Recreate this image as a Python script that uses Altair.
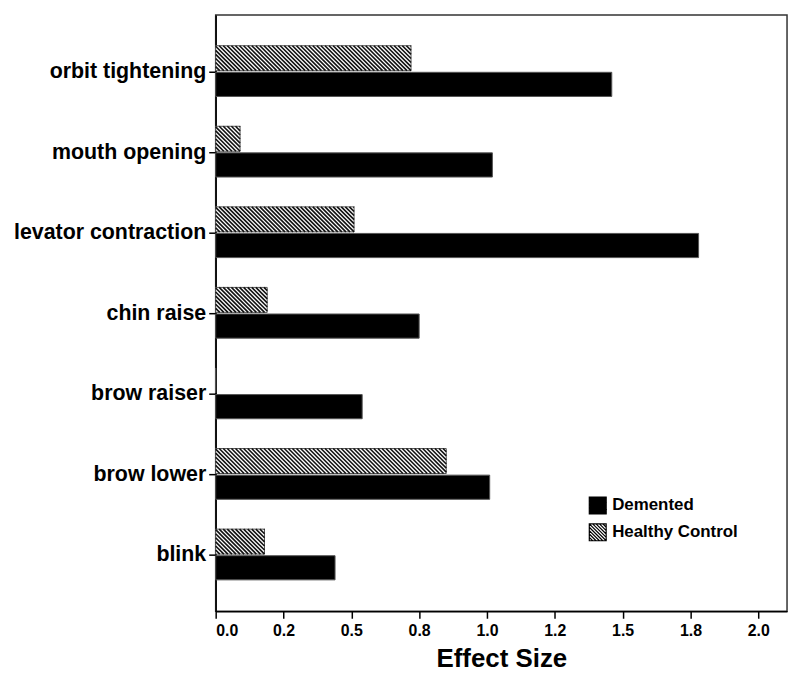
import json
import altair as alt
import pandas as pd

# ---- data ----
categories = ["orbit tightening", "mouth opening", "levator contraction",
              "chin raise", "brow raiser", "brow lower", "blink"]
demented = [1.46, 1.02, 1.78, 0.75, 0.54, 1.01, 0.44]
healthy = [0.72, 0.09, 0.51, 0.19, 0.0, 0.85, 0.18]
groups = ["Demented", "Healthy Control"]
tick_labels = ["0.0", "0.2", "0.5", "0.8", "1.0", "1.2", "1.5", "1.8", "2.0"]

rows = []
for i, c in enumerate(categories):
    rows.append({"category": c, "idx": i, "group": groups[0], "value": demented[i]})
    rows.append({"category": c, "idx": i, "group": groups[1], "value": healthy[i]})
df = pd.DataFrame(rows)

# ---- styling constants ----
FONT = "Liberation Sans"
HATCH_DX = 0.092   # horizontal run of one hatch line over the bar height (data units)
HATCH_STEP = 0.0150  # hatch spacing (data units)

x_scale = alt.Scale(domain=[0, 2.106], nice=False, zero=False)
y_scale = alt.Scale(domain=[-0.7, 6.7], reverse=True, nice=False, zero=False)

x_axis = alt.Axis(
    values=[k * 0.25 for k in range(len(tick_labels))],
    labelExpr=json.dumps(tick_labels) + "[round(datum.value*4)]",
    grid=False, tickSize=7, tickWidth=1.5, tickColor="black",
    domainColor="black", domainWidth=1.5,
    labelFontSize=16, labelFontWeight="bold", labelColor="black", labelPadding=4,
    title="Effect Size", titleFontSize=26, titleFontWeight="bold",
    titleColor="black", titlePadding=8,
)
y_axis = alt.Axis(
    values=list(range(len(categories))),
    labelExpr=json.dumps(categories) + "[round(datum.value)]",
    grid=False, tickSize=7, tickWidth=1.5, tickColor="black",
    domainColor="black", domainWidth=1.5,
    labelFontSize=21.5, labelFontWeight="bold", labelColor="black", labelPadding=3,
    labelLimit=400, title=None,
)

# legend symbol: square outline + backslash hatch lines (hidden on black fill)
segs = ["M-1,-1H1V1H-1Z"]
for c in [-1.6, -1.2, -0.8, -0.4, 0.0, 0.4, 0.8, 1.2, 1.6]:
    if c >= 0:
        segs.append(f"M{-1 + c:.2f},-1L1,{1 - c:.2f}")
    else:
        segs.append(f"M-1,{-1 - c:.2f}L{1 + c:.2f},1")
hatch_symbol = " ".join(segs)

base = alt.Chart(df).transform_calculate(
    x0="0",
    y0="datum.idx + (datum.group == 'Healthy Control' ? -0.32 : 0.01)",
    y1="datum.idx + (datum.group == 'Healthy Control' ? -0.01 : 0.31)",
)

bars = base.mark_rect(stroke="#555555", strokeWidth=1).encode(
    x=alt.X("x0:Q", scale=x_scale, axis=x_axis),
    x2="value:Q",
    y=alt.Y("y0:Q", scale=y_scale, axis=y_axis),
    y2="y1:Q",
    color=alt.Color(
        "group:N",
        scale=alt.Scale(domain=groups, range=["#000000", "#ffffff"]),
        legend=alt.Legend(
            title=None, orient="none", legendX=375, legendY=484,
            symbolType=hatch_symbol, symbolSize=289,
            symbolStrokeColor="black", symbolStrokeWidth=1.2,
            labelFontSize=17, labelFontWeight="bold", labelColor="black",
            labelOffset=5, rowPadding=4, labelFont=FONT,
        ),
    ),
)

hatch = base.transform_filter(
    "datum.group == 'Healthy Control'"
).transform_calculate(
    ts=f"sequence(-{HATCH_DX}, datum.value, {HATCH_STEP})"
).transform_flatten(["ts"]).transform_calculate(
    u0=f"max(0, -datum.ts / {HATCH_DX})",
    u1=f"min(1, (datum.value - datum.ts) / {HATCH_DX})",
).transform_filter("datum.u1 > datum.u0").transform_calculate(
    xa=f"datum.ts + {HATCH_DX} * datum.u0",
    xb=f"datum.ts + {HATCH_DX} * datum.u1",
    ya="datum.y0 + (datum.y1 - datum.y0) * datum.u0",
    yb="datum.y0 + (datum.y1 - datum.y0) * datum.u1",
).mark_rule(color="#111111", strokeWidth=1.6).encode(
    x=alt.X("xa:Q", scale=x_scale, axis=x_axis),
    x2="xb:Q",
    y=alt.Y("ya:Q", scale=y_scale, axis=y_axis),
    y2="yb:Q",
)

chart = alt.layer(bars, hatch).properties(
    width=575, height=600, background="white"
).configure(font=FONT).configure_view(stroke="#333333", strokeWidth=1.5)

chart.save("out.html", embed_options={"renderer": "svg", "actions": False})
